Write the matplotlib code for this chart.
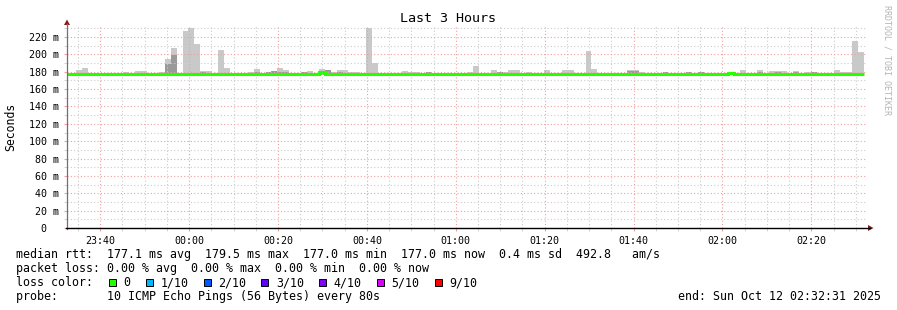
import matplotlib
matplotlib.use("Agg")
import matplotlib.pyplot as plt
from matplotlib.patches import Rectangle, Polygon
from matplotlib.lines import Line2D
from matplotlib.ticker import FixedLocator, MultipleLocator
from matplotlib.transforms import ScaledTranslation
import numpy as np

# ---------------- data ----------------
title = "Last 3 Hours"
start_time = "23:32:31"          # left edge of graph (3 h before end)
step_seconds = 80
n_steps = 135

median_ms = [
    177, 177, 177, 177, 178, 177, 177, 177, 177, 177, 177, 177, 177, 177, 177,
    177, 177, 177, 177, 177, 177, 177, 177, 177, 177, 177, 177, 177, 177, 178,
    177, 177, 177, 177, 177, 177, 177, 177, 177, 177, 177, 177, 177, 179.5, 177,
    177, 177, 177, 177, 177, 177, 177, 177, 177, 177, 177, 177, 178, 177, 177,
    177, 177, 177, 177, 177, 177, 177, 177, 177, 177, 177, 177, 177, 177, 177,
    177, 177, 177, 177, 177, 177, 177, 177, 177, 177, 177, 177, 177, 177, 177,
    177, 177, 178, 178, 177, 177, 177, 177, 177, 177, 177, 177, 177, 177, 177,
    177, 177, 177, 177, 177, 177, 177, 178.5, 177, 177, 177, 177, 177, 177, 177,
    177, 177, 177, 177, 177, 177, 177, 177, 177, 177, 177, 177, 177, 177, 177,
]

smoke_max_ms = [
    177.5, 177.5, 182, 184.3, 178.5, 178, 177.5, 177.5, 177.5, 178.5, 179.7, 178, 181, 181, 178,
    177.5, 180, 195, 207.4, 178, 227, 230.4, 212, 181, 181, 178, 205, 184.3, 178, 178.5,
    178, 180, 183, 178, 180, 181, 184, 182, 178, 179, 180, 181, 178, 183, 182,
    180, 182, 182, 180, 180, 178, 230, 190, 179, 178, 178, 178, 181, 180, 180,
    178, 180, 178, 178, 179, 178, 178, 178, 180, 186.6, 178, 178, 182, 180, 180,
    182, 182, 178, 180, 178, 178, 182, 178, 178, 182, 182, 178, 178, 204, 183,
    178, 178, 179, 178, 179, 182, 182, 180, 178, 178, 178, 180, 178, 178, 178,
    180, 178, 180, 178, 178, 178, 178, 178.5, 178, 182, 178, 178, 182, 178, 181,
    181, 181, 178, 181, 178, 180, 180, 178, 178, 178, 182, 180, 180, 215.4, 202.8,
]

smoke_dark_ms = [
    177, 177, 177, 177, 177, 177, 177, 177, 177, 177, 177, 177, 177, 177, 177,
    177, 177, 189, 199.7, 177, 177, 177, 177, 180, 177, 177, 177, 177, 177, 177,
    177, 177, 179.5, 177, 180, 181, 180, 180, 177, 177, 180, 177, 177, 181, 182,
    177, 180, 177, 177, 177, 177, 177, 177, 177, 177, 177, 177, 177, 177, 177,
    177, 179.5, 177, 177, 177, 177, 177, 177, 177, 177, 177, 177, 177, 180, 177,
    177, 177, 177, 177, 177, 177, 177, 177, 177, 177, 177, 177, 177, 177, 177,
    177, 177, 177, 177, 179, 181, 181, 177, 177, 177, 177, 180, 177, 177, 177,
    180, 177, 180, 177, 177, 177, 177, 177, 179, 177, 177, 177, 180, 177, 177,
    180, 177, 177, 180, 177, 177, 180, 177, 177, 177, 177, 177, 177, 177, 177,
]
smoke_min_ms = 176.5

x_tick_labels = ["23:40", "00:00", "00:20", "00:40", "01:00", "01:20", "01:40", "02:00", "02:20"]
y_ticks = [0, 20, 40, 60, 80, 100, 120, 140, 160, 180, 200, 220]
y_tick_labels = ["0", "20 m", "40 m", "60 m", "80 m", "100 m", "120 m", "140 m",
                 "160 m", "180 m", "200 m", "220 m"]

legend_rtt = "median rtt:  177.1 ms avg  179.5 ms max  177.0 ms min  177.0 ms now  0.4 ms sd  492.8   am/s"
legend_loss = "packet loss: 0.00 % avg  0.00 % max  0.00 % min  0.00 % now"
loss_labels = ["0", "1/10", "2/10", "3/10", "4/10", "5/10", "9/10"]
loss_colors = ["#26ff00", "#00b8ff", "#0059ff", "#5e00ff", "#7e00ff", "#dd00ff", "#ff0000"]
probe_text = "probe:       10 ICMP Echo Pings (56 Bytes) every 80s"
end_text = "end: Sun Oct 12 02:32:31 2025"

# ---------------- figure ----------------
W, H = 897, 310
MONO = "DejaVu Sans Mono"
plt.rcParams["font.family"] = MONO

fig = plt.figure(figsize=(W / 100, H / 100), dpi=100)
fx = lambda px: px / W
fy = lambda py: 1 - py / H

ax_l, ax_r, ax_t, ax_b = 67, 867, 25.6, 228
ax = fig.add_axes([fx(ax_l), fy(ax_b), (ax_r - ax_l) / W, (ax_b - ax_t) / H])

def to_min(hhmm, ref=start_time):
    h, m = map(int, hhmm.split(":")[:2])
    rh, rm, rs = map(int, ref.split(":"))
    t = h * 60 + m
    r = rh * 60 + rm + rs / 60
    d = t - r
    if d < 0:
        d += 24 * 60
    return d

step_min = step_seconds / 60
centers = np.arange(n_steps) * step_min
edges = np.arange(n_steps + 1) * step_min - step_min / 2

smax = np.array(smoke_max_ms)
sdark = np.array(smoke_dark_ms)
ax.bar(centers, smax - smoke_min_ms, bottom=smoke_min_ms, width=step_min,
       color="#c9c9c9", linewidth=0, zorder=1)
mask = sdark > 177.2
ax.bar(centers[mask], sdark[mask] - smoke_min_ms, bottom=smoke_min_ms, width=step_min,
       color="#9a9a9a", linewidth=0, zorder=1.1)

ax.stairs(median_ms, edges, baseline=None, color="#26ff00", linewidth=2.2, zorder=3)

ax.set_xlim(0, 180)
ax.set_ylim(0, 233.2)

major_x = [to_min(l) for l in x_tick_labels]
ax.xaxis.set_major_locator(FixedLocator(major_x))
ax.xaxis.set_minor_locator(FixedLocator(np.arange(major_x[0] - 5, 180, 5)))
ax.set_xticklabels(x_tick_labels)
ax.yaxis.set_major_locator(FixedLocator(y_ticks))
ax.yaxis.set_minor_locator(MultipleLocator(10))
ax.set_yticklabels(y_tick_labels)

ax.grid(which="major", color="#f2a0a0", linestyle=(0, (1, 2)), linewidth=0.8, zorder=2)
ax.grid(which="minor", color="#cccccc", linestyle=(0, (1, 2)), linewidth=0.8, zorder=2)
ax.set_axisbelow(False)
ax.tick_params(which="major", axis="both", length=2, color="#f2a0a0", labelsize=7.2)
ax.tick_params(which="minor", axis="both", length=2, color="#cccccc")
ax.tick_params(axis="y", pad=4)
ax.tick_params(axis="x", pad=4)

for lab in ax.get_yticklabels():
    if lab.get_text() == "0":
        lab.set_transform(lab.get_transform() + ScaledTranslation(-0.12, 0, fig.dpi_scale_trans))

for s in ["top", "right", "left", "bottom"]:
    ax.spines[s].set_visible(False)

# axis lines with arrows
fig.add_artist(Line2D([fx(ax_l), fx(ax_l)], [fy(ax_b + 1), fy(24)], color="#707070", lw=0.9))
fig.add_artist(Line2D([fx(ax_l - 1), fx(870)], [fy(ax_b), fy(ax_b)], color="black", lw=1.0))
fig.add_artist(Polygon([[fx(64), fy(25)], [fx(70), fy(25)], [fx(67), fy(19.5)]],
                       closed=True, transform=fig.transFigure, color="#8b1a1a", lw=0))
fig.add_artist(Polygon([[fx(868), fy(225)], [fx(868), fy(231)], [fx(873.5), fy(228)]],
                       closed=True, transform=fig.transFigure, color="#8b1a1a", lw=0))

# texts
fig.text(fx(448), fy(19), title, ha="center", va="center", fontsize=9.6, color="black")
fig.text(fx(11), fy(127), "Seconds", rotation=90, ha="center", va="center", fontsize=8.3)
fig.text(fx(887), fy(60), "RRDTOOL / TOBI OETIKER", rotation=270, ha="center", va="center",
         fontsize=6.0, color="#b4b4b4")

fs = 8.42
fig.text(fx(16), fy(254.5), legend_rtt, ha="left", va="center", fontsize=fs)
fig.text(fx(16), fy(268.5), legend_loss, ha="left", va="center", fontsize=fs)
fig.text(fx(16), fy(282.5), "loss color:", ha="left", va="center", fontsize=fs)
fig.text(fx(16), fy(296.5), probe_text, ha="left", va="center", fontsize=fs)
fig.text(fx(881), fy(296.5), end_text, ha="right", va="center", fontsize=fs)

for k, (lab, col) in enumerate(zip(loss_labels, loss_colors)):
    sx = 108.7 if k == 0 else 145.7 + (k - 1) * 57.8
    fig.add_artist(Rectangle((fx(sx), fy(285.5)), 7 / W, 7 / H, transform=fig.transFigure,
                             facecolor=col, edgecolor="black", lw=0.7))
    fig.text(fx(sx + 14.5), fy(282.5), lab, ha="left", va="center", fontsize=fs)

fig.savefig("out.png", dpi=100)
